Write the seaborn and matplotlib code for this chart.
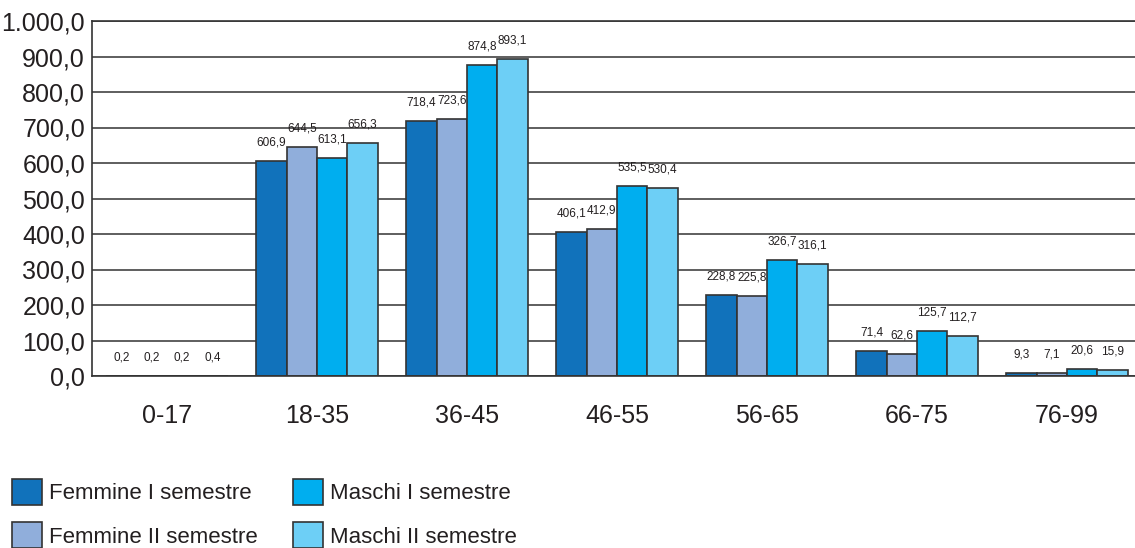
import pandas as pd
import matplotlib.pyplot as plt
import matplotlib.ticker as mticker
import seaborn as sns

# Data
age_groups = ['0-17', '18-35', '36-45', '46-55', '56-65', '66-75', '76-99']
series_names = ['Femmine I semestre', 'Femmine II semestre', 'Maschi I semestre', 'Maschi II semestre']
femmine_1 = [0.2, 606.9, 718.4, 406.1, 228.8, 71.4, 9.3]
femmine_2 = [0.2, 644.5, 723.6, 412.9, 225.8, 62.6, 7.1]
maschi_1 = [0.2, 613.1, 874.8, 535.5, 326.7, 125.7, 20.6]
maschi_2 = [0.4, 656.3, 893.1, 530.4, 316.1, 112.7, 15.9]

colors = ['#1172BB', '#90AEDB', '#00AEEF', '#6DCFF6']

rows = []
for name, vals in zip(series_names, [femmine_1, femmine_2, maschi_1, maschi_2]):
    for g, v in zip(age_groups, vals):
        rows.append({'Eta': g, 'Serie': name, 'Valore': v})
df = pd.DataFrame(rows)

sns.set_style('white')
plt.rcParams['font.family'] = ['Liberation Sans', 'DejaVu Sans']

fig = plt.figure(figsize=(11.35, 5.48), dpi=100)
ax = fig.add_axes([92 / 1135, 1 - 376 / 548, 1050 / 1135, 355 / 548])

sns.barplot(data=df, x='Eta', y='Valore', hue='Serie', palette=colors, saturation=1,
            width=0.81, edgecolor='#333333', linewidth=1.2, ax=ax, legend=True)

def it_fmt(v):
    s = f'{v:,.1f}'
    return s.replace(',', 'X').replace('.', ',').replace('X', '.')

for cont in ax.containers:
    ax.bar_label(cont, labels=[it_fmt(b.get_height()) for b in cont],
                 padding=9, fontsize=8.5, color='#231f20')

ax.set_ylim(0, 1000)
ax.set_xlim(-0.5, 6.5)
ax.yaxis.set_major_locator(mticker.MultipleLocator(100))
ax.yaxis.set_major_formatter(mticker.FuncFormatter(lambda v, p: it_fmt(v)))
ax.grid(axis='y', color='#333333', linewidth=1.1)
ax.set_axisbelow(True)
ax.set_xlabel('')
ax.set_ylabel('')

ax.tick_params(axis='y', length=0, labelsize=18, labelcolor='#231f20', pad=5)
ax.tick_params(axis='x', which='major', length=0, labelsize=18, labelcolor='#231f20', pad=20)
ax.set_xticks([i + 0.5 for i in range(6)], minor=True)
ax.tick_params(axis='x', which='minor', direction='in', length=6, color='#444444', width=1.2)

for side in ['top', 'left', 'bottom']:
    ax.spines[side].set_color('#333333')
    ax.spines[side].set_linewidth(1.2)
ax.spines['right'].set_visible(False)

handles, labels = ax.get_legend_handles_labels()
ax.get_legend().remove()
fig.legend(handles, labels, ncol=2, loc='upper left', bbox_to_anchor=(12 / 1135, 1 - 479 / 548),
           frameon=False, fontsize=16, handlelength=1.35, handleheight=1.4,
           borderpad=0, borderaxespad=0,
           handletextpad=0.3, columnspacing=1.6, labelspacing=0.8, labelcolor='#231f20')

plt.savefig('out.png', dpi=100)
